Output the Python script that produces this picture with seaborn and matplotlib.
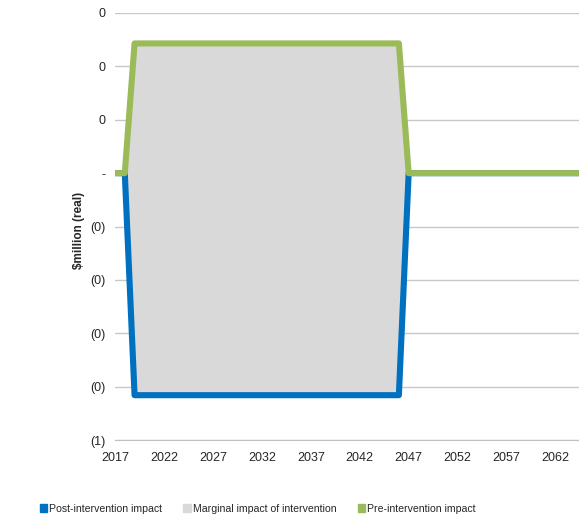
import pandas as pd
import seaborn as sns
import matplotlib.pyplot as plt
from matplotlib.patches import Patch
from matplotlib.ticker import FuncFormatter

years = list(range(2017, 2066))

# values ($million, real)
pre_intervention = [0.0, 0.0,
                    0.243, 0.243, 0.243, 0.243, 0.243, 0.243, 0.243, 0.243, 0.243, 0.243,
                    0.243, 0.243, 0.243, 0.243, 0.243, 0.243, 0.243, 0.243, 0.243, 0.243,
                    0.243, 0.243, 0.243, 0.243, 0.243, 0.243, 0.243, 0.243,
                    0.0, 0.0, 0.0, 0.0, 0.0, 0.0, 0.0, 0.0, 0.0, 0.0,
                    0.0, 0.0, 0.0, 0.0, 0.0, 0.0, 0.0, 0.0, 0.0]
post_intervention = [0.0, 0.0,
                     -0.416, -0.416, -0.416, -0.416, -0.416, -0.416, -0.416, -0.416, -0.416, -0.416,
                     -0.416, -0.416, -0.416, -0.416, -0.416, -0.416, -0.416, -0.416, -0.416, -0.416,
                     -0.416, -0.416, -0.416, -0.416, -0.416, -0.416, -0.416, -0.416,
                     0.0, 0.0, 0.0, 0.0, 0.0, 0.0, 0.0, 0.0, 0.0, 0.0,
                     0.0, 0.0, 0.0, 0.0, 0.0, 0.0, 0.0, 0.0, 0.0]
y_ticks = [-0.5, -0.4, -0.3, -0.2, -0.1, 0.0, 0.1, 0.2, 0.3]
x_ticks = [2017, 2022, 2027, 2032, 2037, 2042, 2047, 2052, 2057, 2062]
legend_labels = ['Post-intervention impact', 'Marginal impact of intervention', 'Pre-intervention impact']

BLUE = '#0070C0'
GREY = '#D9D9D9'
GREEN = '#9BBB59'

df = pd.DataFrame({'year': years, 'pre': pre_intervention, 'post': post_intervention})

sns.set_style('white')
plt.rcParams['font.family'] = ['Liberation Sans', 'DejaVu Sans']

fig = plt.figure(figsize=(5.79, 5.2), dpi=100)
ax = fig.add_axes([0.1986, 0.1538, 0.8014, 0.8212])

# marginal impact = area between the two lines
ax.fill_between(df['year'], df['post'], df['pre'], color=GREY, linewidth=0, zorder=1)

sns.lineplot(data=df, x='year', y='post', ax=ax, color=BLUE, linewidth=4.4,
             solid_joinstyle='round', zorder=3)
sns.lineplot(data=df, x='year', y='pre', ax=ax, color=GREEN, linewidth=4.4,
             solid_joinstyle='round', zorder=4)

ax.set_xlim(2017, 2064.4)
ax.set_ylim(-0.5, 0.3)
ax.set_yticks(y_ticks)
ax.set_xticks(x_ticks)


def acct(v, pos):
    if abs(v) < 1e-9:
        return '-'
    n = int(abs(v) + 0.5)
    return f'({n})' if v < 0 else f'{n}'


ax.yaxis.set_major_formatter(FuncFormatter(acct))
ax.grid(axis='y', color='#C8C8C8', linewidth=1, zorder=0)
ax.grid(axis='x', visible=False)
for s in ['top', 'right', 'left']:
    ax.spines[s].set_visible(False)
ax.spines['bottom'].set_color('#C0C0C0')
ax.spines['bottom'].set_zorder(0)

ax.tick_params(axis='y', length=0, labelsize=9, pad=7)
ax.tick_params(axis='x', length=0, labelsize=9, pad=8.5)
ax.set_xlabel('')
ax.set_ylabel(r'\$million (real)', fontsize=8.5, fontweight='bold')
ax.yaxis.set_label_coords(-0.065, 0.49)

handles = [Patch(facecolor=BLUE, edgecolor=BLUE),
           Patch(facecolor=GREY, edgecolor=GREY),
           Patch(facecolor=GREEN, edgecolor=GREEN)]
fig.legend(handles, legend_labels, loc='center', bbox_to_anchor=(0.445, 0.022),
           ncol=3, frameon=False, fontsize=7.6, handlelength=0.7, handleheight=0.7,
           handletextpad=0.2, columnspacing=2.0)

fig.savefig('out.png', dpi=100)
